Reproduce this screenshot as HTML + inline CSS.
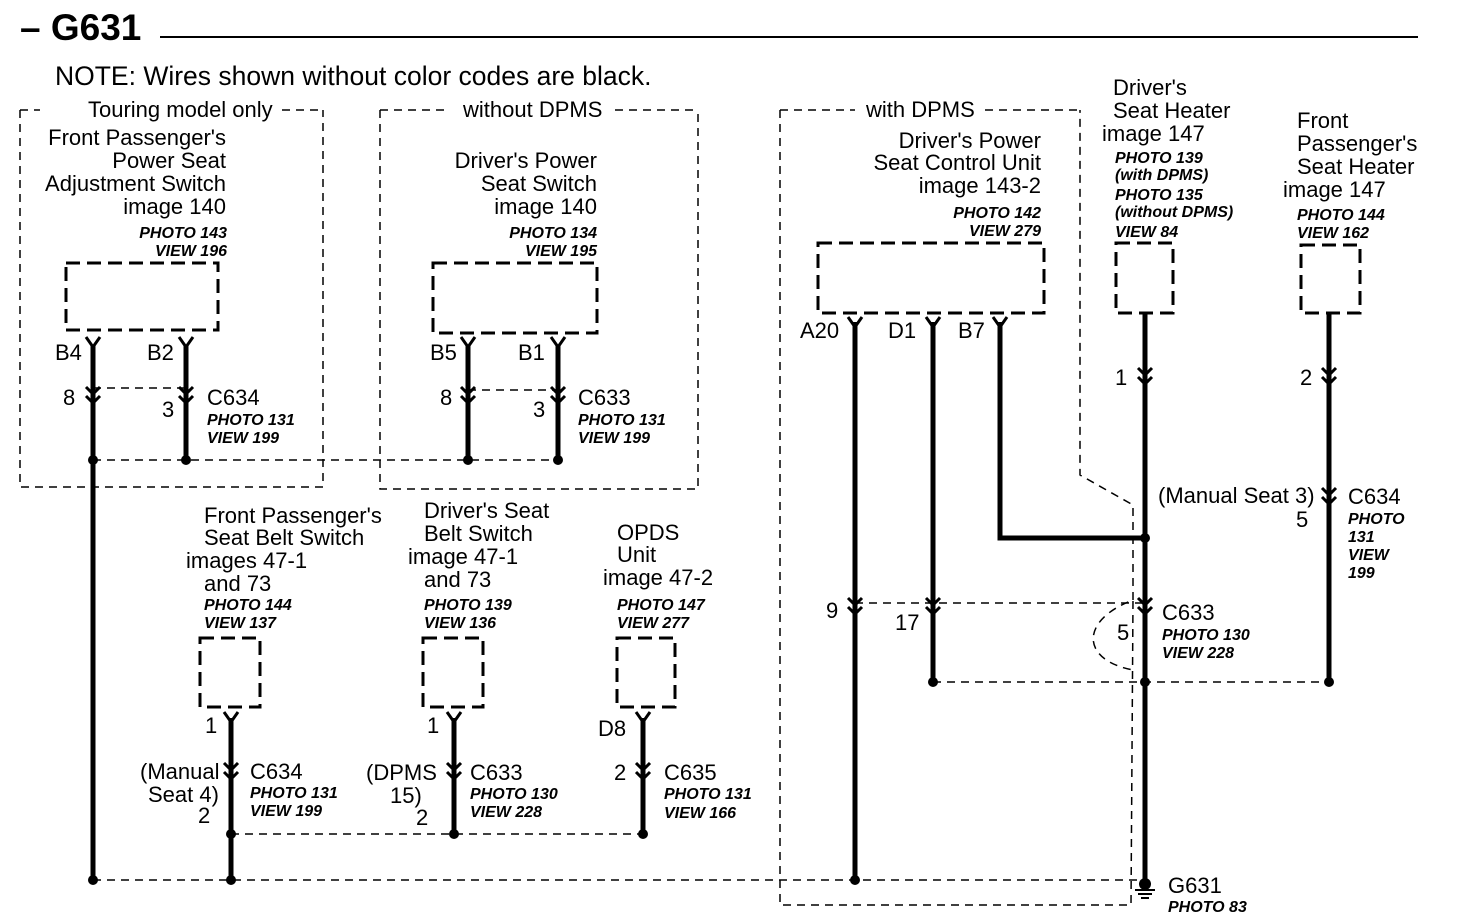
<!DOCTYPE html>
<html><head><meta charset="utf-8"><style>
html,body{margin:0;padding:0;background:#fff;}
svg{display:block;font-family:"Liberation Sans",Arial,sans-serif;}
.t{font-size:22px;fill:#000;}
.i{font-size:16px;font-style:italic;font-weight:bold;fill:#000;}
.w{stroke:#000;stroke-width:5;fill:none;}
.d{stroke:#000;stroke-width:1.5;fill:none;stroke-dasharray:8,6;}
.b{stroke:#000;stroke-width:3;fill:none;stroke-dasharray:14,7;}
.c{stroke:#000;stroke-width:3;fill:none;}
</style></head><body>
<svg id="s" width="1472" height="916" viewBox="0 0 1472 916" xmlns="http://www.w3.org/2000/svg">
<rect width="1472" height="916" fill="#fff"/>
<text x="20" y="40" style="font-size:37px;font-weight:bold">– G631</text>
<line x1="160" y1="37" x2="1418" y2="37" stroke="#000" stroke-width="2"/>
<text x="55" y="85" style="font-size:26.5px">NOTE: Wires shown without color codes are black.</text>

<path class="d" d="M20,110 L20,487 L323,487 L323,110 M20,110 L40,110 M282,110 L323,110"/>
<text class="t" x="88" y="117">Touring model only</text>
<path class="d" d="M380,110 L380,489 L698,489 L698,110 M380,110 L450,110 M615,110 L698,110"/>
<text class="t" x="463" y="117">without DPMS</text>
<path class="d" d="M780,110 L780,905 L1131,905 L1133,600 C1080,620 1080,660 1133,670 M1133,600 L1133,505 L1080,475 L1080,110 M780,110 L855,110 M985,110 L1080,110"/>
<text class="t" x="866" y="117">with DPMS</text>

<g class="t" text-anchor="end">
<text x="226" y="145">Front Passenger's</text><text x="226" y="168">Power Seat</text>
<text x="226" y="191">Adjustment Switch</text><text x="226" y="214">image 140</text>
<text x="597" y="168">Driver's Power</text><text x="597" y="191">Seat Switch</text><text x="597" y="214">image 140</text>
<text x="1041" y="148">Driver's Power</text><text x="1041" y="170">Seat Control Unit</text><text x="1041" y="193">image 143-2</text>
</g>
<g class="i" text-anchor="end">
<text x="227" y="238">PHOTO 143</text><text x="227" y="256">VIEW 196</text>
<text x="597" y="238">PHOTO 134</text><text x="597" y="256">VIEW 195</text>
<text x="1041" y="218">PHOTO 142</text><text x="1041" y="236">VIEW 279</text>
</g>
<rect class="b" x="66" y="263" width="152" height="67"/>
<rect class="b" x="433" y="263" width="164" height="70"/>
<rect class="b" x="818" y="243" width="226" height="70"/>
<rect class="b" x="1116" y="243" width="57" height="70"/>
<rect class="b" x="1301" y="245" width="59" height="68"/>
<rect class="b" x="200" y="638" width="60" height="69"/>
<rect class="b" x="423" y="638" width="60" height="69"/>
<rect class="b" x="617" y="638" width="58" height="69"/>

<g class="t">
<text x="55" y="360">B4</text><text x="147" y="360">B2</text>
<text x="63" y="405">8</text><text x="162" y="417">3</text>
<text x="207" y="405">C634</text>
<text x="430" y="360">B5</text><text x="518" y="360">B1</text>
<text x="440" y="405">8</text><text x="533" y="417">3</text>
<text x="578" y="405">C633</text>
<text x="800" y="338">A20</text><text x="888" y="338">D1</text><text x="958" y="338">B7</text>
<text x="826" y="618">9</text><text x="895" y="630">17</text>
<text x="1113" y="95">Driver's</text><text x="1113" y="118">Seat Heater</text><text x="1102" y="141">image 147</text>
<text x="1297" y="128">Front</text><text x="1297" y="151">Passenger's</text><text x="1297" y="174">Seat Heater</text><text x="1283" y="197">image 147</text>
<text x="1115" y="385">1</text><text x="1300" y="385">2</text>
<text x="1158" y="503">(Manual Seat 3)</text><text x="1296" y="527">5</text><text x="1348" y="504">C634</text>
<text x="1117" y="640">5</text><text x="1162" y="620">C633</text>
<text x="1168" y="893">G631</text>
<text x="204" y="523">Front Passenger's</text><text x="204" y="545">Seat Belt Switch</text>
<text x="186" y="568">images 47-1</text><text x="204" y="591">and 73</text>
<text x="424" y="518">Driver's Seat</text><text x="424" y="541">Belt Switch</text>
<text x="408" y="564">image 47-1</text><text x="424" y="587">and 73</text>
<text x="617" y="540">OPDS</text><text x="617" y="562">Unit</text><text x="603" y="585">image 47-2</text>
<text x="205" y="733">1</text><text x="427" y="733">1</text><text x="598" y="736">D8</text>
<text x="140" y="779">(Manual</text><text x="148" y="802">Seat 4)</text><text x="198" y="823">2</text>
<text x="250" y="779">C634</text>
<text x="366" y="780">(DPMS</text><text x="390" y="803">15)</text><text x="416" y="825">2</text>
<text x="470" y="780">C633</text>
<text x="614" y="780">2</text><text x="664" y="780">C635</text>
</g>
<g class="i">
<text x="207" y="425">PHOTO 131</text><text x="207" y="443">VIEW 199</text>
<text x="578" y="425">PHOTO 131</text><text x="578" y="443">VIEW 199</text>
<text x="1115" y="163">PHOTO 139</text><text x="1115" y="180">(with DPMS)</text>
<text x="1115" y="200">PHOTO 135</text><text x="1115" y="217">(without DPMS)</text><text x="1115" y="237">VIEW 84</text>
<text x="1297" y="220">PHOTO 144</text><text x="1297" y="238">VIEW 162</text>
<text x="1348" y="524">PHOTO</text><text x="1348" y="542">131</text><text x="1348" y="560">VIEW</text><text x="1348" y="578">199</text>
<text x="1162" y="640">PHOTO 130</text><text x="1162" y="658">VIEW 228</text>
<text x="1168" y="912">PHOTO 83</text>
<text x="204" y="610">PHOTO 144</text><text x="204" y="628">VIEW 137</text>
<text x="424" y="610">PHOTO 139</text><text x="424" y="628">VIEW 136</text>
<text x="617" y="610">PHOTO 147</text><text x="617" y="628">VIEW 277</text>
<text x="250" y="798">PHOTO 131</text><text x="250" y="816">VIEW 199</text>
<text x="470" y="799">PHOTO 130</text><text x="470" y="817">VIEW 228</text>
<text x="664" y="799">PHOTO 131</text><text x="664" y="818">VIEW 166</text>
</g>

<path class="d" d="M93,388 L186,388 M468,390 L558,390 M93,460 L558,460 M855,603 L1143,603 M933,682 L1329,682 M231,834 L643,834 M93,880 L1140,880"/>

<path class="w" d="M93,345 L93,880 M186,345 L186,460 M468,345 L468,460 M558,345 L558,460
M855,322 L855,880 M933,322 L933,680 M1000,322 L1000,538 L1143,538 M1145,313 L1145,880
M1329,313 L1329,680 M231,718 L231,880 M454,718 L454,834 M643,718 L643,834"/>

<g class="c">
<path d="M86,337 L93,347 L100,337 M179,337 L186,347 L193,337 M461,337 L468,347 L475,337 M551,337 L558,347 L565,337
M848,317 L855,327 L862,317 M926,317 L933,327 L940,317 M993,317 L1000,327 L1007,317
M224,712 L231,722 L238,712 M447,712 L454,722 L461,712 M636,712 L643,722 L650,712"/>
<path d="M86,387 L93,394 L100,387 M86,396 L93,403 L100,396
M179,387 L186,394 L193,387 M179,396 L186,403 L193,396
M461,387 L468,394 L475,387 M461,396 L468,403 L475,396
M551,387 L558,394 L565,387 M551,396 L558,403 L565,396
M1138,368 L1145,375 L1152,368 M1138,377 L1145,384 L1152,377
M1322,368 L1329,375 L1336,368 M1322,377 L1329,384 L1336,377
M1322,488 L1329,495 L1336,488 M1322,497 L1329,504 L1336,497
M848,598 L855,605 L862,598 M848,607 L855,614 L862,607
M926,598 L933,605 L940,598 M926,607 L933,614 L940,607
M1138,598 L1145,605 L1152,598 M1138,607 L1145,614 L1152,607
M224,763 L231,770 L238,763 M224,772 L231,779 L238,772
M447,763 L454,770 L461,763 M447,772 L454,779 L461,772
M636,763 L643,770 L650,763 M636,772 L643,779 L650,772"/>
</g>

<g fill="#000">
<circle cx="93" cy="460" r="5"/><circle cx="186" cy="460" r="5"/>
<circle cx="468" cy="460" r="5"/><circle cx="558" cy="460" r="5"/>
<circle cx="1145" cy="538" r="5"/><circle cx="933" cy="682" r="5"/>
<circle cx="1145" cy="682" r="5"/><circle cx="1329" cy="682" r="5"/>
<circle cx="231" cy="834" r="5"/><circle cx="454" cy="834" r="5"/><circle cx="643" cy="834" r="5"/>
<circle cx="93" cy="880" r="5"/><circle cx="231" cy="880" r="5"/><circle cx="855" cy="880" r="5"/>
<circle cx="1145" cy="884" r="6"/>
</g>
<path d="M1135,890 L1155,890 M1138,894 L1152,894 M1141,898 L1149,898" stroke="#000" stroke-width="2"/>
</svg>
</body></html>
